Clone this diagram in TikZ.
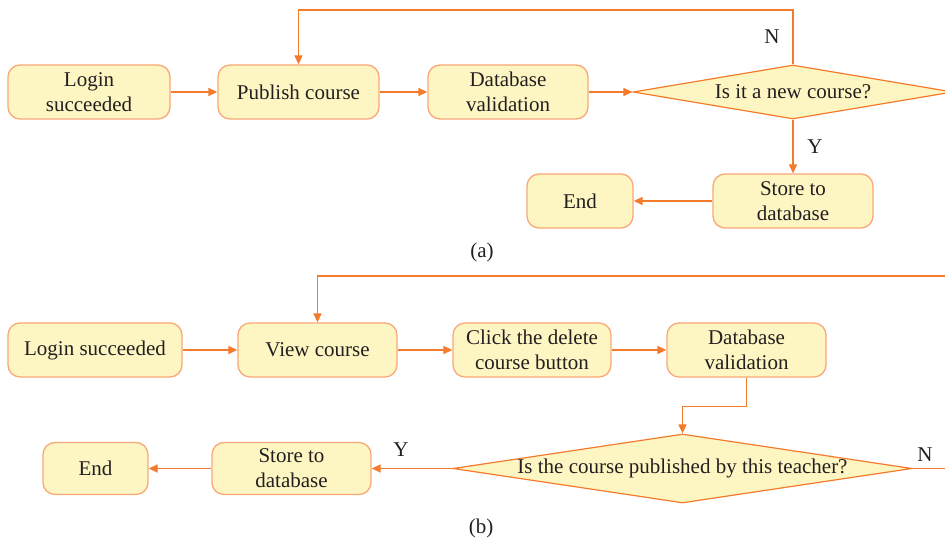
\documentclass[tikz,border=0pt]{standalone}
\usepackage{fontspec}
\setmainfont{Liberation Serif}
\usetikzlibrary{shapes.geometric,arrows.meta,calc}
\definecolor{boxfill}{HTML}{FEF6C2}
\definecolor{boxline}{HTML}{F9A877}
\definecolor{arrcol}{HTML}{F47A2C}
\definecolor{txt}{HTML}{231F20}
\tikzset{
  stepbox/.style={rectangle, rounded corners=12pt, draw=boxline, fill=boxfill, line width=1.3pt,
    inner sep=0pt, align=center, text=txt, font=\fontsize{21}{25}\selectfont},
  decision/.style={diamond, draw=arrcol, fill=boxfill, line width=1.2pt, inner sep=0pt,
    text=txt, font=\fontsize{21}{25}\selectfont},
  arr/.style={draw=arrcol, line width=1.4pt, -{Triangle[length=9pt,width=8pt]}},
  ln/.style={draw=arrcol, line width=1.4pt},
  lbl/.style={text=txt, font=\fontsize{21}{25}\selectfont, inner sep=0pt}
}
\begin{document}
\begin{tikzpicture}[x=1pt,y=-1pt]
\useasboundingbox (0,0) rectangle (945,545);
\clip (0,0) rectangle (945,545);
% ---------- (a) ----------
\node[stepbox, minimum width=162pt, minimum height=54pt] (la) at (89,92) {Login\\succeeded};
\node[stepbox, minimum width=161pt, minimum height=54pt] (pa) at (298.5,92) {Publish course};
\node[stepbox, minimum width=160pt, minimum height=54pt] (da) at (508,92) {Database\\validation};
\node[decision, shape aspect=6, minimum width=320pt, minimum height=54pt] (qa) at (793,92) {Is it a new course?};
\node[stepbox, minimum width=160pt, minimum height=54pt] (sa) at (793,201) {Store to\\database};
\node[stepbox, minimum width=106pt, minimum height=54pt] (ea) at (580,201) {End};
\coordinate (ta) at (793,10);
\draw[arr] (la) -- (pa);
\draw[arr] (pa) -- (da);
\draw[arr] (da) -- (qa.west);
\draw[arr] (qa.north) -- (ta) -| (pa.north);
\draw[arr] (qa.south) -- (sa.north);
\draw[arr] (sa) -- (ea);
\node[lbl] (na) at (772,37) {N};
\node[lbl] (ya) at (815,147) {Y};
\node[lbl] (capa) at (482,252) {(a)};
% ---------- (b) ----------
\node[stepbox, minimum width=174pt, minimum height=54pt] (lb) at (95,350) {Login succeeded};
\node[stepbox, minimum width=159pt, minimum height=54pt] (vb) at (317.5,350) {View course};
\node[stepbox, minimum width=158pt, minimum height=54pt] (cb) at (532,350) {Click the delete\\course button};
\node[stepbox, minimum width=159pt, minimum height=54pt] (db) at (746.5,350) {Database\\validation};
\node[decision, shape aspect=6.65, minimum width=459pt, minimum height=69pt] (qb) at (682.5,468.5) {Is the course published by this teacher?};
\node[stepbox, minimum width=159pt, minimum height=52pt] (sb) at (291.5,468.5) {Store to\\database};
\node[stepbox, minimum width=105pt, minimum height=52pt] (eb) at (95.5,468.5) {End};
\coordinate (tb) at (960,276);
\coordinate (rb) at (960,468.5);
\draw[arr] (lb) -- (vb);
\draw[arr] (vb) -- (cb);
\draw[arr] (cb) -- (db);
\draw[arr] (db.south) -- ++(0,29) -| (qb.north);
\draw[arr] (qb.west) -- (sb.east);
\draw[arr] (sb) -- (eb);
\draw[ln] (qb.east) -- (rb);
\draw[arr] (tb) -| (vb.north);
\node[lbl] (nb) at (925,455) {N};
\node[lbl] (yb) at (401,450) {Y};
\node[lbl] (capb) at (481,528) {(b)};
\end{tikzpicture}
\end{document}
